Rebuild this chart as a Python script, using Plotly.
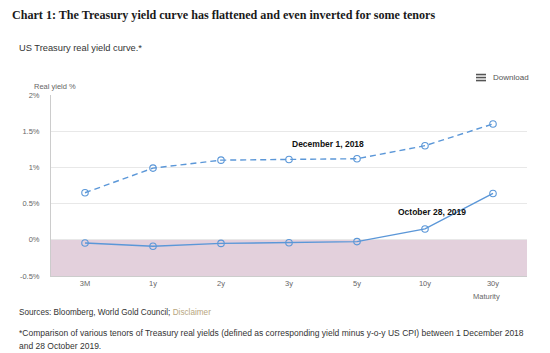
import plotly.graph_objects as go

maturities = ["3M", "1y", "2y", "3y", "5y", "10y", "30y"]
dec_2018 = [0.65, 0.99, 1.10, 1.11, 1.12, 1.30, 1.60]
oct_2019 = [-0.045, -0.09, -0.05, -0.04, -0.025, 0.15, 0.64]
y_ticks = [-0.5, 0, 0.5, 1, 1.5, 2]
y_tick_labels = ["-0.5%", "0%", "0.5%", "1%", "1.5%", "2%"]

W, H = 550, 353
L, R, T, B = 51, 527, 94.5, 276

def px(x):
    return (x - L) / (R - L)

def py(y):
    return (B - y) / (B - T)

line_color = "#5b97d8"

fig = go.Figure()
fig.add_trace(go.Scatter(
    x=maturities, y=dec_2018, mode="lines+markers", name="December 1, 2018",
    line=dict(color=line_color, width=1.4, dash="6px,4px"),
    marker=dict(symbol="circle-open", size=6.5, color=line_color, line=dict(width=1.1)),
))
fig.add_trace(go.Scatter(
    x=maturities, y=oct_2019, mode="lines+markers", name="October 28, 2019",
    line=dict(color=line_color, width=1.4),
    marker=dict(symbol="circle-open", size=6.5, color=line_color, line=dict(width=1.1)),
))

shapes = [
    dict(type="rect", xref="paper", yref="y", x0=0, x1=1, y0=-0.5, y1=0,
         fillcolor="#e3d0dc", line=dict(width=0), layer="below"),
]
for yy in (74, 77, 80):
    shapes.append(dict(type="line", xref="paper", yref="paper",
                       x0=px(476), x1=px(486), y0=py(yy), y1=py(yy),
                       line=dict(color="#555555", width=1.6)))

font = "Liberation Sans, Arial, sans-serif"
annotations = [
    dict(text="<b>Chart 1: The Treasury yield curve has flattened and even inverted for some tenors</b>",
         x=px(10), y=py(14), xanchor="left", yanchor="middle",
         font=dict(family="Liberation Serif, serif", size=12.1, color="#1a1a1a")),
    dict(text="US Treasury real yield curve.*", x=px(17), y=py(47), xanchor="left", yanchor="middle",
         font=dict(family=font, size=9.3, color="#333333")),
    dict(text="Real yield %", x=px(32), y=py(86), xanchor="left", yanchor="middle",
         font=dict(family=font, size=7.5, color="#666666")),
    dict(text="Download", x=px(491), y=py(77), xanchor="left", yanchor="middle",
         font=dict(family=font, size=8, color="#555555")),
    dict(text="Maturity", x=px(502), y=py(297), xanchor="right", yanchor="middle",
         font=dict(family=font, size=7.5, color="#666666")),
    dict(text="<b>December 1, 2018</b>", x=px(328), y=py(144), xanchor="center", yanchor="middle",
         font=dict(family=font, size=8.5, color="#111111")),
    dict(text="<b>October 28, 2019</b>", x=px(432), y=py(212), xanchor="center", yanchor="middle",
         font=dict(family=font, size=8.5, color="#111111")),
    dict(text="Sources: Bloomberg, World Gold Council; <span style='color:#b8a67e'>Disclaimer</span>",
         x=px(17), y=py(313), xanchor="left", yanchor="middle",
         font=dict(family=font, size=8.2, color="#333333")),
    dict(text="*Comparison of various tenors of Treasury real yields (defined as corresponding yield minus y-o-y US CPI) between 1 December 2018",
         x=px(17), y=py(333), xanchor="left", yanchor="middle",
         font=dict(family=font, size=8.5, color="#333333")),
    dict(text="and 28 October 2019.",
         x=px(17), y=py(346), xanchor="left", yanchor="middle",
         font=dict(family=font, size=8.5, color="#333333")),
]
for a in annotations:
    a.update(xref="paper", yref="paper", showarrow=False)

fig.update_layout(
    width=W, height=H,
    margin=dict(l=L, r=W - R, t=T, b=H - B, pad=0),
    paper_bgcolor="white", plot_bgcolor="white",
    showlegend=False,
    shapes=shapes, annotations=annotations,
    xaxis=dict(range=[-0.5, 6.5], showgrid=False, showline=True, linecolor="#cccccc", linewidth=1,
               ticks="", tickfont=dict(family=font, size=7.5, color="#666666"), fixedrange=True),
    yaxis=dict(range=[-0.5, 2], tickvals=y_ticks, ticktext=y_tick_labels, showgrid=True,
               gridcolor="#e8e8e8", gridwidth=1, zeroline=False, showline=True, linecolor="#cccccc",
               linewidth=1, ticks="", ticklabelstandoff=9,
               tickfont=dict(family=font, size=7.5, color="#666666"), fixedrange=True),
)

fig.write_html("out.html", config={"displayModeBar": False})
